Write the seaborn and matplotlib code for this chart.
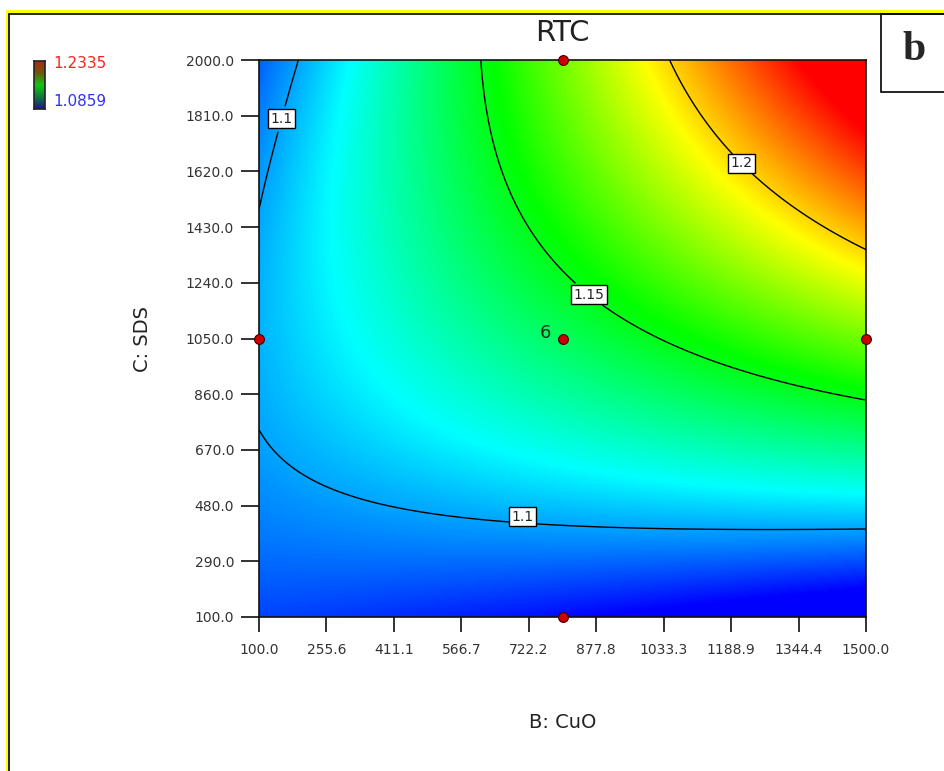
import numpy as np
import matplotlib
matplotlib.use("Agg")
import matplotlib.pyplot as plt
from matplotlib.colors import LinearSegmentedColormap, Normalize
from matplotlib.patches import Rectangle
from matplotlib.lines import Line2D
import pandas as pd
import seaborn as sns

# Quadratic response model for RTC in coded units (b = CuO, c = SDS):
# intercept, b, c, b*c, b^2, c^2
model_terms = ["1", "b", "c", "bc", "b2", "c2"]
model_coef = [1.13921, 0.0346, 0.04808, 0.04597, -0.00226, -0.01545]

# factor ranges
cuo_range = [100.0, 1500.0]
sds_range = [100.0, 2000.0]

# contour levels and colour range of the response
contour_levels = [1.1, 1.15, 1.2]
response_legend = [1.0859, 1.2335]
color_limits = [1.074, 1.2335]

# design points shown on this slice
point_cuo = [800.0, 100.0, 800.0, 1500.0, 800.0]
point_sds = [2000.0, 1050.0, 1050.0, 1050.0, 100.0]
point_reps = [1, 1, 6, 1, 1]

# tick labels
x_ticks = [100.0, 255.6, 411.1, 566.7, 722.2, 877.8, 1033.3, 1188.9, 1344.4, 1500.0]
y_ticks = [100.0, 290.0, 480.0, 670.0, 860.0, 1050.0, 1240.0, 1430.0, 1620.0, 1810.0, 2000.0]


def rtc(cuo, sds):
    b = (cuo - 800.0) / 700.0
    c = (sds - 1050.0) / 950.0
    a0, ab, ac, abc, abb, acc = model_coef
    return a0 + ab * b + ac * c + abc * b * c + abb * b * b + acc * c * c


cuo = np.linspace(cuo_range[0], cuo_range[1], 400)
sds = np.linspace(sds_range[0], sds_range[1], 400)
CU, SD = np.meshgrid(cuo, sds)
Z = rtc(CU, SD)

sns.set_theme(style="white")
plt.rcParams["font.family"] = ["DejaVu Sans"]

W, H = 944, 771
fig = plt.figure(figsize=(W / 100, H / 100), dpi=100)
fig.patch.set_facecolor("white")


def fx(px):
    return px / W


def fy(py):
    return 1 - py / H


# outer frame: yellow line with a black line just inside
fig.add_artist(Line2D([fx(6.5), fx(6.5)], [fy(11), 0], color="#ffff00", lw=2.2, transform=fig.transFigure))
fig.add_artist(Line2D([fx(6.5), 1], [fy(11), fy(11)], color="#ffff00", lw=2.2, transform=fig.transFigure))
fig.add_artist(Line2D([fx(8.8), fx(8.8)], [fy(13.5), 0], color="black", lw=1.2, transform=fig.transFigure))
fig.add_artist(Line2D([fx(8.8), 1], [fy(13.5), fy(13.5)], color="black", lw=1.2, transform=fig.transFigure))

# panel letter box
fig.add_artist(Rectangle((fx(881), fy(92)), 1 - fx(881) + 0.01, fy(13.5) - fy(92),
                         transform=fig.transFigure, fc="white", ec="black", lw=1.2))
fig.text(fx(914), fy(50), "b", ha="center", va="center", fontsize=30, fontweight="bold",
         family=["Liberation Serif", "DejaVu Serif"])

ax = fig.add_axes([fx(259), fy(617), fx(607), 557 / H])
cmap = LinearSegmentedColormap.from_list(
    "rtc", ["#0000ff", "#00ffff", "#00ff00", "#ffff00", "#ff0000"])
norm = Normalize(vmin=color_limits[0], vmax=color_limits[1])
ax.imshow(Z, extent=[cuo_range[0], cuo_range[1], sds_range[0], sds_range[1]],
          origin="lower", aspect="auto", cmap=cmap, norm=norm, interpolation="bilinear")

cs = ax.contour(CU, SD, Z, levels=contour_levels, colors="black", linewidths=1.0)
label_spots = [(144, 1802), (709, 455), (863, 1205), (1221, 1659)]
texts = ax.clabel(cs, fmt=lambda v: f"{v:g}", manual=label_spots, inline=True,
                  inline_spacing=2, fontsize=10)
for t in texts:
    t.set_rotation(0)
    t.set_color("#222222")
    t.set_bbox(dict(boxstyle="square,pad=0.18", fc="white", ec="black", lw=1.0))
    x, y = t.get_position()
    if y < 1000:
        # the lower label sits just above its line
        t.set_position((x, y + 22))

# design points
pts = pd.DataFrame({"CuO": point_cuo, "SDS": point_sds, "reps": point_reps})
sns.scatterplot(data=pts, x="CuO", y="SDS", ax=ax, s=50, color="#cc0000",
                edgecolor="#3a0000", linewidth=0.8, clip_on=False, zorder=5, legend=False)
for _, r in pts.iterrows():
    if r["reps"] > 1:
        ax.annotate(f"{int(r['reps'])}", xy=(r["CuO"], r["SDS"]), xytext=(-12, 4),
                    textcoords="offset points", ha="center", va="center",
                    fontsize=13, color="#1a2a1a")

ax.set_xlim(cuo_range)
ax.set_ylim(sds_range)
ax.set_xticks(x_ticks)
ax.set_xticklabels([f"{v:.1f}" for v in x_ticks])
ax.set_yticks(y_ticks)
ax.set_yticklabels([f"{v:.1f}" for v in y_ticks])
ax.tick_params(axis="x", direction="out", length=11, width=1.3, color="#222222",
               pad=8, labelsize=10, labelcolor="#333333", bottom=True)
ax.tick_params(axis="y", direction="out", length=13, width=1.3, color="#222222",
               pad=5, labelsize=10, labelcolor="#333333", left=True)
for s in ax.spines.values():
    s.set_color("#111111")
    s.set_linewidth(1.2)

ax.set_xlabel("B: CuO", fontsize=14, color="#222222", va="center")
ax.set_ylabel("C: SDS", fontsize=14, color="#222222", va="center")
ax.xaxis.set_label_coords(0.5, (617 - 722) / 557)
ax.yaxis.set_label_coords((143 - 259) / 607, 0.5)
ax.set_title("RTC", fontsize=21, color="#222222", pad=0, y=1 + (60 - 33) / 557, va="center")

# colour legend
cax = fig.add_axes([fx(34), fy(109), fx(11), (109 - 61) / H])
legend_cmap = LinearSegmentedColormap.from_list(
    "leg", ["#1a1a8c", "#0f7a3a", "#12c812", "#6a5a10", "#b02a0a"])
cax.imshow(np.linspace(1, 0, 60).reshape(-1, 1), aspect="auto", cmap=legend_cmap,
           extent=[0, 1, 0, 1])
cax.set_xticks([])
cax.set_yticks([])
for s in cax.spines.values():
    s.set_color("#222222")
    s.set_linewidth(1.2)
fig.text(fx(53), fy(64), f"{response_legend[1]:.4f}", color="#ff2020", fontsize=11,
         ha="left", va="center")
fig.text(fx(53), fy(102), f"{response_legend[0]:.4f}", color="#3030ff", fontsize=11,
         ha="left", va="center")

fig.savefig("out.png", dpi=100, facecolor="white")
